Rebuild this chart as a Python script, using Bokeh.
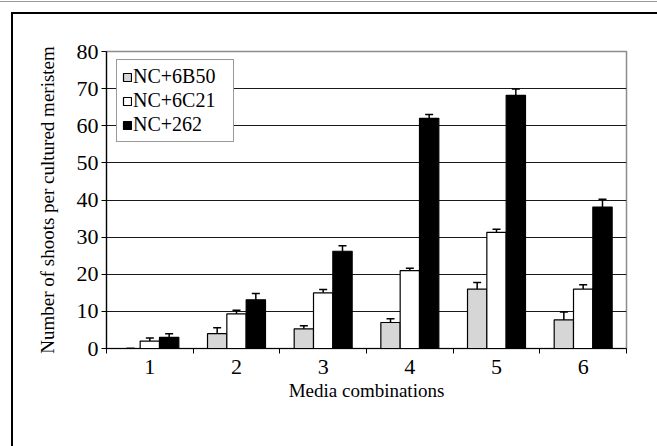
from bokeh.plotting import figure
from bokeh.models import Range1d, FixedTicker, SingleIntervalTicker, ColumnDataSource, Whisker, TeeHead, Legend
from bokeh.transform import dodge
from bokeh.embed import file_html
from bokeh.resources import INLINE

# ---- data ----
categories = [1, 2, 3, 4, 5, 6]
tick_labels = ["1", "2", "3", "4", "5", "6"]
series_names = ["NC+6B50", "NC+6C21", "NC+262"]
b50 = [0, 4.0, 5.3, 7.0, 16.0, 7.7]
b50_err = [0, 1.6, 0.8, 1.0, 1.8, 2.1]
c21 = [2.0, 9.3, 15.0, 21.0, 31.3, 16.0]
c21_err = [0.8, 1.0, 0.9, 0.6, 0.8, 1.2]
n262 = [3.0, 13.1, 26.2, 62.0, 68.2, 38.1]
n262_err = [1.0, 1.7, 1.5, 1.0, 1.7, 2.1]

FONT = "Liberation Serif"

p = figure(width=657, height=446, x_range=Range1d(0.5, 6.5), y_range=Range1d(0, 80),
           output_backend="svg", toolbar_location=None,
           min_border_left=106, min_border_right=31, min_border_top=51, min_border_bottom=98)
# page frame: thin grey rule at the very top, black rules top and left
p.styles = {"background": "linear-gradient(#9a9a9a,#9a9a9a) 0px 1px / 100% 1px no-repeat, "
                          "linear-gradient(#000,#000) 11px 12px / 100% 2px no-repeat, "
                          "linear-gradient(#000,#000) 11px 12px / 2px 100% no-repeat, #ffffff"}

p.background_fill_color = "white"
p.border_fill_alpha = 0
p.outline_line_color = "#8c8c8c"
p.outline_line_width = 1.5
p.xgrid.grid_line_color = None
p.ygrid.grid_line_color = "#1a1a1a"
p.ygrid.grid_line_width = 1.2

width = 0.223
offsets = [-width, 0.0, width]
colors = ["#d6d6d6", "white", "black"]
vals = [b50, c21, n262]
errs = [b50_err, c21_err, n262_err]

renderers = []
for name, v, e, off, col in zip(series_names, vals, errs, offsets, colors):
    src = ColumnDataSource(dict(x=categories, top=v,
                                upper=[a + b for a, b in zip(v, e)],
                                lower=[a - b for a, b in zip(v, e)]))
    r = p.vbar(x=dodge("x", off, range=p.x_range), top="top", width=width, source=src,
               fill_color=col, line_color="black", line_width=1.2)
    renderers.append((name, r))
    w = Whisker(base=dodge("x", off, range=p.x_range), upper="upper", lower="lower", source=src,
                line_color="black", line_width=1.5,
                upper_head=TeeHead(size=8, line_color="black", line_width=1.5),
                lower_head=TeeHead(size=8, line_color="black", line_width=1.5))
    p.add_layout(w)

# axes
p.yaxis.ticker = SingleIntervalTicker(interval=10)
p.xaxis.ticker = FixedTicker(ticks=categories, minor_ticks=[c - 0.5 for c in categories] + [6.5])
p.xaxis.major_label_overrides = {c: t for c, t in zip(categories, tick_labels)}
for ax in (p.xaxis[0], p.yaxis[0]):
    ax.axis_line_color = "black"
    ax.axis_line_width = 1.2
    ax.major_label_text_font = FONT
    ax.major_label_text_font_size = "22px"
    ax.major_label_text_color = "black"
    ax.axis_label_text_font = FONT
    ax.axis_label_text_font_size = "19px"
    ax.axis_label_text_font_style = "normal"
    ax.axis_label_text_color = "black"

p.yaxis.major_tick_out = 5
p.yaxis.major_tick_in = 0
p.yaxis.major_tick_line_color = "black"
p.yaxis.minor_tick_line_color = None
p.yaxis.major_label_standoff = 3
p.yaxis.axis_label = "Number of shoots per cultured meristem"
p.yaxis.axis_label_standoff = 16

p.xaxis.major_tick_line_color = None
p.xaxis.minor_tick_line_color = "black"
p.xaxis.minor_tick_out = 5
p.xaxis.minor_tick_in = 0
p.xaxis.major_label_standoff = 5
p.xaxis.axis_label = "Media combinations"
p.xaxis.axis_label_standoff = 3

legend = Legend(items=[(n, [r]) for n, r in renderers], location=(10, 206))
legend.label_text_font = FONT
legend.label_text_font_size = "20px"
legend.label_text_color = "black"
legend.glyph_width = 10
legend.glyph_height = 10
legend.label_standoff = 1
legend.label_height = 20
legend.label_width = 95
legend.spacing = 1
legend.padding = 5
legend.margin = 0
legend.border_line_color = "#333333"
legend.border_line_width = 1
legend.background_fill_alpha = 1
p.add_layout(legend)

open("out.html", "w").write(file_html(p, INLINE))
